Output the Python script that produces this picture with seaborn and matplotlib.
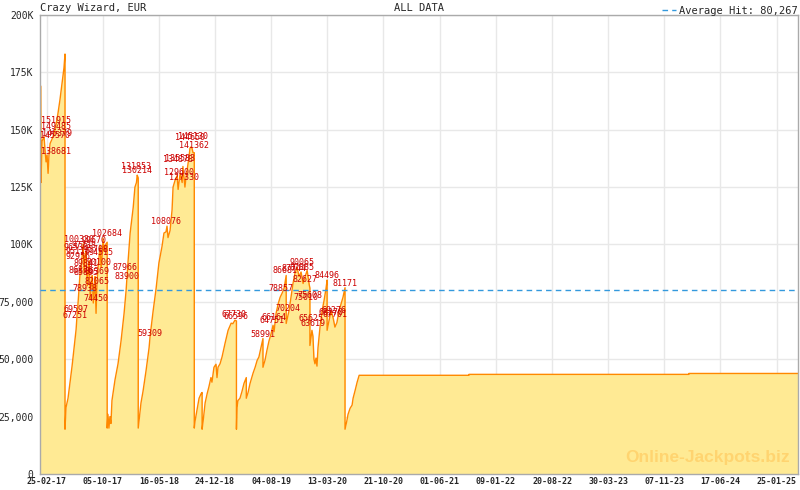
import pandas as pd
import numpy as np
import matplotlib
matplotlib.use("Agg")
import matplotlib.pyplot as plt
import seaborn as sns

game_title = "Crazy Wizard, EUR"
range_title = "ALL DATA"
avg_hit = 80267

# jackpot level over time (vertical drops = same date twice)
jackpot_dates = [
    "2017-01-30", "2017-02-02", "2017-02-03", "2017-02-07", "2017-02-15", "2017-02-19", "2017-02-23",
    "2017-02-27", "2017-03-03", "2017-03-07", "2017-03-11", "2017-03-19", "2017-03-27", "2017-04-03",
    "2017-04-11", "2017-04-19", "2017-04-27", "2017-05-05", "2017-05-09",
    "2017-05-09", "2017-05-13", "2017-05-21", "2017-05-29", "2017-06-06", "2017-06-14", "2017-06-22",
    "2017-06-26", "2017-06-30", "2017-07-08", "2017-07-16", "2017-07-20", "2017-07-24", "2017-07-28",
    "2017-08-01", "2017-08-05", "2017-08-09", "2017-08-13", "2017-08-17", "2017-08-21", "2017-08-25",
    "2017-08-29", "2017-09-02", "2017-09-05", "2017-09-09", "2017-09-13", "2017-09-17", "2017-09-21",
    "2017-09-25", "2017-09-29", "2017-10-03", "2017-10-07", "2017-10-11", "2017-10-17", "2017-10-23",
    "2017-10-23", "2017-10-26", "2017-10-30", "2017-11-03", "2017-11-07", "2017-11-11", "2017-11-23",
    "2017-12-05", "2017-12-17", "2017-12-29", "2018-01-06", "2018-01-14", "2018-01-22", "2018-02-03",
    "2018-02-10", "2018-02-16", "2018-02-19", "2018-02-23",
    "2018-02-23", "2018-02-26", "2018-03-06", "2018-03-14", "2018-03-26", "2018-04-07", "2018-04-11",
    "2018-04-23", "2018-05-05", "2018-05-16", "2018-05-28", "2018-06-05", "2018-06-13", "2018-06-17",
    "2018-06-21", "2018-06-29", "2018-07-07", "2018-07-11", "2018-07-19", "2018-07-27", "2018-07-31",
    "2018-08-08", "2018-08-16", "2018-08-19", "2018-08-27", "2018-08-31", "2018-09-04", "2018-09-12",
    "2018-09-16", "2018-09-20", "2018-09-24", "2018-09-28", "2018-10-03",
    "2018-10-03", "2018-10-06", "2018-10-14", "2018-10-22", "2018-10-30", "2018-11-03", "2018-11-03",
    "2018-11-07", "2018-11-15", "2018-11-23", "2018-11-30", "2018-12-08", "2018-12-12", "2018-12-20",
    "2018-12-28", "2019-01-01", "2019-01-05", "2019-01-13", "2019-01-21", "2019-02-02", "2019-02-14",
    "2019-02-26", "2019-03-05", "2019-03-13", "2019-03-19",
    "2019-03-19", "2019-03-21", "2019-03-25", "2019-04-02", "2019-04-10", "2019-04-18", "2019-04-27",
    "2019-04-27", "2019-05-04", "2019-05-12", "2019-05-24", "2019-06-01", "2019-06-09", "2019-06-16",
    "2019-06-24", "2019-07-02", "2019-07-02", "2019-07-10", "2019-07-18", "2019-07-26", "2019-08-03",
    "2019-08-11", "2019-08-15", "2019-08-23", "2019-08-31", "2019-09-08", "2019-09-16", "2019-09-24",
    "2019-10-02", "2019-10-02", "2019-10-13", "2019-10-21", "2019-10-29", "2019-11-06", "2019-11-14",
    "2019-11-22", "2019-11-30", "2019-12-08", "2019-12-16", "2019-12-24", "2020-01-01", "2020-01-04",
    "2020-01-04", "2020-01-12", "2020-01-16", "2020-01-20", "2020-01-24", "2020-01-28", "2020-02-01",
    "2020-02-05", "2020-02-13", "2020-02-21", "2020-02-29", "2020-03-08", "2020-03-12", "2020-03-12",
    "2020-03-20", "2020-03-28", "2020-04-05", "2020-04-12", "2020-04-20", "2020-04-28", "2020-05-06",
    "2020-05-14", "2020-05-22",
    "2020-05-22", "2020-05-29", "2020-06-03", "2020-06-11", "2020-06-19", "2020-06-23", "2020-07-01",
    "2020-07-09", "2020-07-17", "2021-09-25", "2021-09-25", "2024-02-13", "2024-02-13", "2025-04-20",
]
jackpot_values = [
    169000, 169000, 127000, 145000, 147000, 141000, 136000,
    139000, 131000, 140000, 144000, 146000, 148500, 151900,
    157000, 163000, 170000, 177000, 182995,
    19500, 29000, 33000, 40000, 47000, 55000, 63000,
    69600, 75000, 88000, 95000, 100300, 88000, 95500,
    97000, 82000, 88000, 92900, 76000, 83000, 86500,
    74500, 80000, 86000, 70000, 84000, 90000, 95000,
    99700, 90000, 95000, 102700, 97000, 100000, 101000,
    20000, 26000, 20000, 25000, 22000, 32000, 41000,
    48000, 58000, 70000, 80000, 93000, 105000, 116000,
    125000, 127000, 130200, 129000,
    20000, 23000, 31000, 36000, 45000, 55000, 60000,
    71000, 81000, 92000, 99000, 105000, 105500, 108000,
    103000, 106000, 115000, 125000, 128000, 130000, 124000,
    131000, 127000, 134000, 125000, 129000, 132000, 138000,
    142000, 142500, 142000, 140000, 140000,
    20000, 23000, 28000, 33000, 35000, 35500, 19500,
    23000, 31000, 35000, 38000, 42000, 40000, 46500,
    47800, 42000, 46500, 48000, 51000, 57000, 62600,
    65700, 65500, 67000, 66700,
    19500, 29000, 32000, 33000, 36000, 39500, 42000,
    33000, 35500, 39500, 44000, 46500, 49500, 51000,
    55000, 59000, 46500, 49500, 54000, 58000, 61000,
    64800, 62000, 70000, 74000, 77000, 78800, 81000,
    86500, 65600, 71000, 77000, 83000, 87500, 90000,
    86000, 88000, 83000, 86000, 88700, 82600, 81000,
    56000, 62600, 60000, 50000, 48000, 50500, 47000,
    55000, 64000, 71000, 75600, 81000, 84500, 62600,
    67000, 71000, 68000, 64000, 66000, 71000, 74000,
    77000, 81171,
    19500, 23000, 26000, 28600, 30000, 33000, 36400,
    40000, 43000, 43000, 43400, 43400, 43800, 43800,
]

# jackpot hits printed in red
hit_dates = [
    "2017-04-03", "2017-04-03", "2017-03-31", "2017-04-06", "2017-04-03",
    "2017-06-22", "2017-06-18", "2017-07-03", "2017-09-01", "2017-10-24", "2017-06-22", "2017-07-23",
    "2017-09-09", "2017-09-29", "2017-06-29", "2017-07-01", "2017-07-31", "2017-09-21", "2017-07-11",
    "2017-07-31", "2017-09-13", "2017-09-11", "2017-07-27", "2017-09-07",
    "2018-01-03", "2018-01-11", "2018-02-14", "2018-02-19",
    "2018-04-11", "2018-06-13", "2018-08-01", "2018-08-09", "2018-08-03", "2018-08-23", "2018-09-16",
    "2018-09-28", "2018-10-02",
    "2019-03-09", "2019-03-17",
    "2019-07-02", "2019-08-07", "2019-08-15", "2019-10-09", "2019-09-11", "2019-09-29", "2019-11-02",
    "2019-12-04", "2019-12-04", "2019-12-16", "2019-12-20", "2020-01-04", "2020-01-08", "2020-01-18",
    "2020-03-13", "2020-03-28", "2020-04-08", "2020-04-12", "2020-05-22",
]
hit_values = [
    151915, 149485, 145570, 146379, 138681,
    69597, 67251, 100330, 99670, 102684, 96538, 97738,
    95708, 94515, 95116, 92956, 89841, 90100, 86876,
    85895, 86369, 82065, 78938, 74450,
    87966, 83900, 131853, 130214,
    59309, 108076, 134878, 135583, 129600, 127330, 144650,
    145130, 141362,
    67730, 66596,
    58991, 64751, 66164, 70204, 78857, 86681, 87744,
    87885, 90065, 82627, 75010, 75608, 65625, 63619,
    84496, 68270, 69276, 67701, 81171,
]

x_tick_labels = ["25-02-17", "05-10-17", "16-05-18", "24-12-18", "04-08-19", "13-03-20", "21-10-20",
                 "01-06-21", "09-01-22", "20-08-22", "30-03-23", "07-11-23", "17-06-24", "25-01-25"]
y_ticks = [0, 25000, 50000, 75000, 100000, 125000, 150000, 175000, 200000]
y_tick_labels = ["0", "25,000", "50,000", "75,000", "100K", "125K", "150K", "175K", "200K"]
x_start = "2017-01-30"
x_end = "2025-04-20"

sns.set_style("white")
plt.rcParams['font.family'] = ['DejaVu Sans Mono']

df = pd.DataFrame({"date": pd.to_datetime(jackpot_dates), "value": jackpot_values})

fig = plt.figure(figsize=(8, 4.9), dpi=100)
ax = fig.add_axes([0.05, 0.0327, 0.9475, 0.9367])

ax.fill_between(df["date"], df["value"], color="#ffea94", lw=0, zorder=1)
sns.lineplot(data=df, x="date", y="value", estimator=None, sort=False,
             color="#ff8800", lw=1, ax=ax, zorder=2)
ax.axhline(avg_hit, ls=(0, (4, 3)), color="#3399dd", lw=1, zorder=3,
           label=f"Average Hit: {avg_hit:,}")

for d, v in zip(pd.to_datetime(hit_dates), hit_values):
    ax.text(d, v, str(v), ha="center", va="bottom", fontsize=6, color="#cc0000", zorder=4)

# axes
lo, hi = pd.Timestamp(x_start), pd.Timestamp(x_end)
major = pd.to_datetime(x_tick_labels, format="%d-%m-%y")
ax.set_xticks(major)
ax.set_xticklabels(x_tick_labels, fontsize=6, fontweight="bold")
step = (major[-1] - major[0]) / (len(major) - 1) / 7
minor = [major[0] + step * k for k in range(-3, 13 * 7 + 4)]
minor = [m for m in minor if lo <= m <= hi]
ax.set_xticks(minor, minor=True)
ax.set_xlim(lo, hi)
ax.set_yticks(y_ticks)
ax.set_yticklabels(y_tick_labels, fontsize=7)
ax.set_ylim(0, 200000)
ax.tick_params(axis="x", which="both", direction="in", length=3, color="#aaaaaa", pad=2)
ax.tick_params(axis="y", direction="out", length=4, color="#aaaaaa", pad=0.5)
ax.set_xlabel("")
ax.set_ylabel("")
ax.grid(True, color="#e8e8e8", lw=1)
ax.set_axisbelow(True)
for s in ax.spines.values():
    s.set_color("#aaaaaa")
    s.set_linewidth(1)

ax.text(0.0, 1.004, game_title, transform=ax.transAxes, ha="left", va="bottom", fontsize=7.5)
ax.text(0.5, 1.004, range_title, transform=ax.transAxes, ha="center", va="bottom", fontsize=7.5)
ax.legend(loc="lower right", bbox_to_anchor=(1.0, 0.998), frameon=False, fontsize=7.5,
          handlelength=1.4, handletextpad=0.3, borderpad=0, borderaxespad=0)

ax.text(0.989, 0.035, "Online-Jackpots.biz", transform=ax.transAxes, ha="right", va="center",
        fontsize=12.5, fontweight="bold", family="Liberation Sans", color="#ffd470", zorder=5)

fig.savefig("out.png", dpi=100)
